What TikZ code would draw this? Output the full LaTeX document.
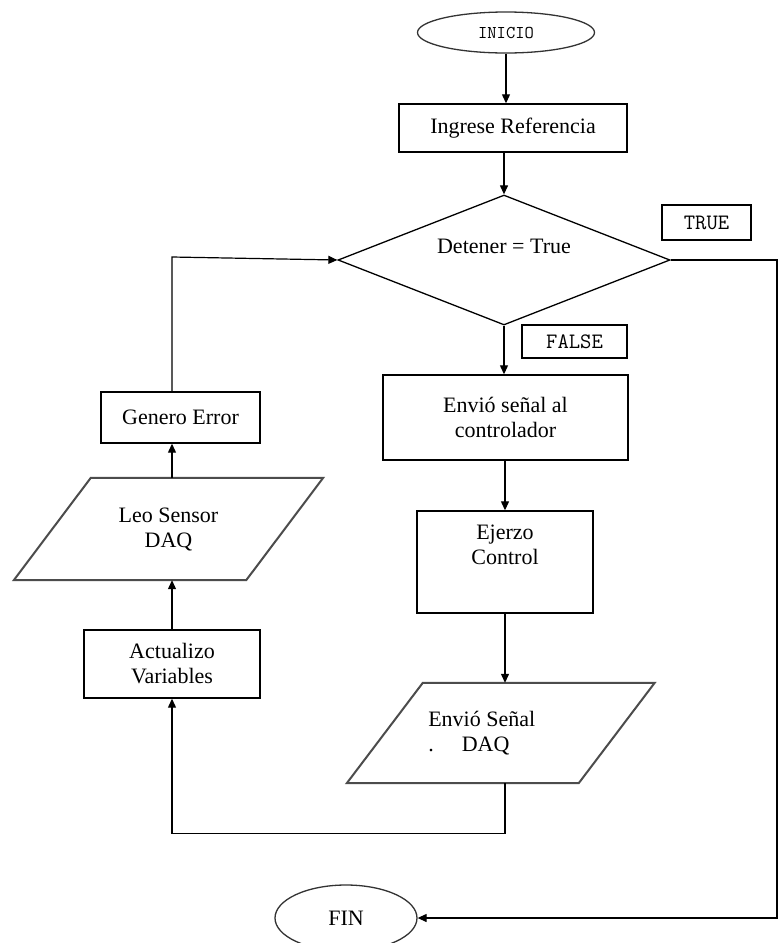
\documentclass[tikz,border=0pt]{standalone}
\usepackage{fontspec}
\setmainfont{Liberation Serif}
\usetikzlibrary{shapes.geometric,arrows.meta,calc}
\begin{document}
\begin{tikzpicture}[x=1pt,y=-1pt,
  txt/.style={font=\fontsize{22}{25}\selectfont},
  procbox/.style={draw=black, line width=1.4pt, rectangle, inner sep=0pt, align=center, txt},
  tagbox/.style={draw=black, line width=1.4pt, rectangle, inner sep=0pt, font=\ttfamily\fontsize{22}{24}\selectfont},
  term/.style={draw=black!80, line width=1.3pt, ellipse, inner sep=0pt},
  iobox/.style={rectangle, inner sep=0pt, align=center, txt},
  ioline/.style={draw=black!70, line width=2pt, line join=miter},
  flow/.style={draw=black, line width=1.2pt},
  arr/.style={flow, -{Triangle[length=9pt,width=8pt]}},
]
\useasboundingbox (0,0) rectangle (779,943);
\fill[white] (0,0) rectangle (779,943);

% terminals
\node[term, minimum width=177, minimum height=41,
      font=\ttfamily\fontsize{18}{20}\selectfont] (ini) at (506,32.5) {INICIO};
\node[term, minimum width=142, minimum height=66, txt] (fin) at (346,918) {FIN};

% process boxes
\node[procbox, minimum width=228, minimum height=48] (ing) at (513,128) {Ingrese Referencia};
\node[procbox, minimum width=245, minimum height=85] (env) at (505.5,417.5) {Envió señal al\\controlador};
\node[procbox, minimum width=176, minimum height=102,
      label={[txt, align=center, yshift=17pt]center:Ejerzo\\Control}] (ejer) at (505,562) {};
\node[procbox, minimum width=176, minimum height=68] (act) at (172,664) {Actualizo\\Variables};
\node[procbox, minimum width=159, minimum height=51] (gen) at (180.5,417.5) {Genero Error};

% decision
\node[draw=black, line width=1.3pt, diamond, aspect=2.5, minimum width=332, minimum height=130,
      inner sep=0pt, label={[txt, yshift=14pt]center:Detener = True}] (dec) at (504,260) {};
\node[tagbox, minimum width=89, minimum height=35] (ttrue) at (706.5,222.5) {TRUE};
\node[tagbox, minimum width=105, minimum height=33] (tfalse) at (574.5,341.5) {FALSE};

% input / output
\node[iobox, minimum width=232, minimum height=102] (leo) at (168.5,529) {Leo Sensor\\DAQ};
\draw[ioline] ($(leo.north west)+(38.5,0)$) -- ($(leo.north east)+(38.5,0)$)
  -- ($(leo.south east)+(-38.5,0)$) -- ($(leo.south west)+(-38.5,0)$) -- cycle;
\node[iobox, minimum width=231.5, minimum height=100,
      label={[txt, align=left, xshift=-19pt]center:Envió Señal\\.\hspace{28pt}DAQ}] (sen) at (500.75,733) {};
\draw[ioline] ($(sen.north west)+(38,0)$) -- ($(sen.north east)+(38,0)$)
  -- ($(sen.south east)+(-38,0)$) -- ($(sen.south west)+(-38,0)$) -- cycle;

% connectors
\coordinate (corner) at (172,257);
\coordinate (rt) at (777,260);
\draw[arr] (ini.south) -- (ini.south |- ing.north);
\draw[arr] (dec.north |- ing.south) -- (dec.north);
\draw[arr] (dec.south) -- (dec.south |- env.north);
\draw[arr] (ejer.north |- env.south) -- (ejer.north);
\draw[arr] (ejer.south) -- (ejer.south |- sen.north);
\draw[arr] (ejer.south |- sen.south) -- ++(0,50) -| (act.south);
\draw[arr] (act.north) -- (act.north |- leo.south);
\draw[arr] (act.north |- leo.north) -- (act.north |- gen.south);
\draw[arr] (act.north |- gen.north) -- (corner) -- (dec.west);
\draw[arr] (dec.east) -- (rt) |- (fin.east);
\end{tikzpicture}
\end{document}
